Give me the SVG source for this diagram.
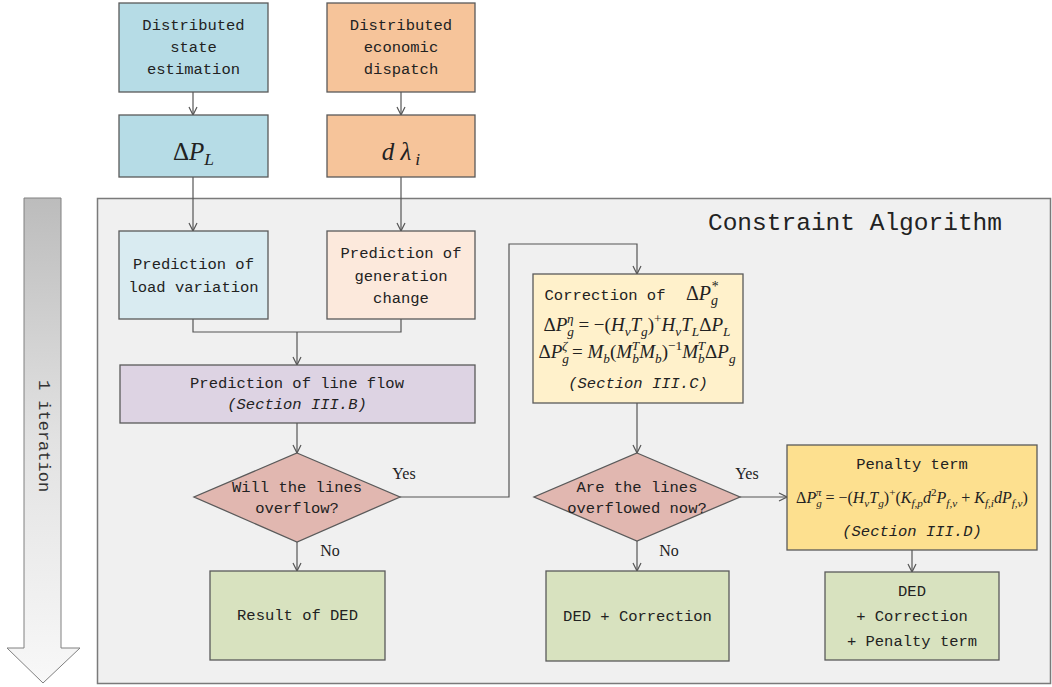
<svg xmlns="http://www.w3.org/2000/svg" width="1052" height="687" viewBox="0 0 1052 687">
<defs>
<linearGradient id="iterGrad" x1="0" y1="0" x2="0" y2="1">
<stop offset="0" stop-color="#bcbcbc"/>
<stop offset="0.5" stop-color="#e2e2e2"/>
<stop offset="1" stop-color="#f8f8f8"/>
</linearGradient>
<marker id="arr" viewBox="0 0 10 10" refX="9" refY="5" markerWidth="10" markerHeight="10" markerUnits="userSpaceOnUse" orient="auto">
<polyline points="1,1 9,5 1,9" fill="none" stroke="#555" stroke-width="1.2"/>
</marker>
</defs>
<style>
.box{stroke:#5a5a5a;stroke-width:1.3}
.t{font-family:"Liberation Mono","DejaVu Sans Mono",monospace;font-size:15.5px;fill:#222;text-anchor:middle}
.it{font-style:italic}
.lbl{font-family:"Liberation Serif",serif;font-size:16px;fill:#222;text-anchor:middle}
.eq{font-family:"Liberation Serif",serif;font-style:italic;fill:#222;text-anchor:middle}
.s{font-size:0.7em}
.up{font-style:normal}
.conn{fill:none;stroke:#555;stroke-width:1.2}
</style>
<rect width="1052" height="687" fill="#ffffff"/>
<rect x="97.5" y="198.5" width="953" height="485" fill="#f0f0f0" stroke="#7a7a7a" stroke-width="1.5"/>
<text x="855" y="230" font-family="Liberation Mono, DejaVu Sans Mono, monospace" font-size="24.5" fill="#222" text-anchor="middle">Constraint Algorithm</text>

<g id="iteration">
<polygon points="24,198 61,198 61,648 80,648 43,683 7,648 24,648" fill="url(#iterGrad)" stroke="#808080" stroke-width="1"/>
<text x="43" y="436" transform="rotate(90 43 436)" font-family="Liberation Mono, DejaVu Sans Mono, monospace" font-size="17" fill="#333" text-anchor="middle" dominant-baseline="central">1 iteration</text>
</g>

<g id="connectors">
<line class="conn" x1="193" y1="92" x2="193" y2="115" marker-end="url(#arr)"/>
<line class="conn" x1="401" y1="92" x2="401" y2="115" marker-end="url(#arr)"/>
<line class="conn" x1="193" y1="177" x2="193" y2="231" marker-end="url(#arr)"/>
<line class="conn" x1="401" y1="177" x2="401" y2="231" marker-end="url(#arr)"/>
<polyline class="conn" points="193,319 193,332 401,332 401,319"/>
<line class="conn" x1="297" y1="332" x2="297" y2="365" marker-end="url(#arr)"/>
<line class="conn" x1="297" y1="423" x2="297" y2="453" marker-end="url(#arr)"/>
<line class="conn" x1="297" y1="542" x2="297" y2="571" marker-end="url(#arr)"/>
<polyline class="conn" points="400,497 509,497 509,244 637,244 637,274" marker-end="url(#arr)"/>
<line class="conn" x1="637" y1="403" x2="637" y2="453" marker-end="url(#arr)"/>
<line class="conn" x1="637" y1="541" x2="637" y2="571" marker-end="url(#arr)"/>
<line class="conn" x1="740" y1="497" x2="787" y2="497" marker-end="url(#arr)"/>
<line class="conn" x1="912" y1="550" x2="912" y2="572" marker-end="url(#arr)"/>
<text class="lbl" x="404" y="479">Yes</text>
<text class="lbl" x="330" y="556">No</text>
<text class="lbl" x="747" y="479">Yes</text>
<text class="lbl" x="669" y="556">No</text>
</g>

<g id="dse">
<rect class="box" x="119" y="3" width="149" height="89" fill="#b6dce6"/>
<text class="t" x="193.5" y="30">Distributed</text>
<text class="t" x="193.5" y="52">state</text>
<text class="t" x="193.5" y="74">estimation</text>
</g>
<g id="ded">
<rect class="box" x="327" y="3" width="148" height="89" fill="#f6c49a"/>
<text class="t" x="401" y="30">Distributed</text>
<text class="t" x="401" y="52">economic</text>
<text class="t" x="401" y="74">dispatch</text>
</g>
<g id="dpl">
<rect class="box" x="119" y="115" width="149" height="62" fill="#b6dce6"/>
<text class="eq" x="193.5" y="160" font-size="25"><tspan class="up">Δ</tspan>P<tspan class="s" dy="5">L</tspan></text>
</g>
<g id="dlambda">
<rect class="box" x="327" y="115" width="148" height="62" fill="#f6c49a"/>
<text class="eq" x="401" y="160" font-size="25">d λ<tspan class="s" dx="4" dy="5">i</tspan></text>
</g>
<g id="load">
<rect class="box" x="119" y="231" width="149" height="88" fill="#d9ebf1"/>
<text class="t" x="193.5" y="269">Prediction of</text>
<text class="t" x="193.5" y="292">load variation</text>
</g>
<g id="gen">
<rect class="box" x="327" y="231" width="148" height="88" fill="#fce9dc"/>
<text class="t" x="401" y="258">Prediction of</text>
<text class="t" x="401" y="281">generation</text>
<text class="t" x="401" y="303">change</text>
</g>
<g id="lineflow">
<rect class="box" x="120" y="365" width="355" height="58" fill="#ddd3e3"/>
<text class="t" x="297" y="388">Prediction of line flow</text>
<text class="t it" x="297" y="409">(Section III.B)</text>
</g>
<g id="overflow">
<polygon class="box" points="297,453 400,497 297,542 194,497" fill="#e1b7b0"/>
<text class="t" x="297" y="492">Will the lines</text>
<text class="t" x="297" y="513">overflow?</text>
</g>
<g id="result">
<rect class="box" x="210" y="571" width="175" height="89" fill="#d8e2bf"/>
<text class="t" x="297.5" y="620" font-size="17">Result of DED</text>
</g>
<g id="correction">
<rect class="box" x="533" y="274" width="210" height="129" fill="#fff1cb"/>
<text class="t" x="605" y="300" font-size="16">Correction of</text>
<text class="eq" x="702" y="300" font-size="20"><tspan class="up">Δ</tspan>P<tspan class="s" dy="5">g</tspan><tspan class="s" dx="-7" dy="-14">*</tspan></text>
<text class="eq" x="637" y="331" font-size="19"><tspan class="up">Δ</tspan>P<tspan class="s" dy="5">g</tspan><tspan class="s" dx="-7" dy="-13">η</tspan><tspan class="up" dy="8"> = −(</tspan>H<tspan class="s" dy="5">v</tspan><tspan dy="-5">T</tspan><tspan class="s" dy="5">g</tspan><tspan class="up" dy="-5">)</tspan><tspan class="s up" dy="-8">+</tspan><tspan dy="8">H</tspan><tspan class="s" dy="5">v</tspan><tspan dy="-5">T</tspan><tspan class="s" dy="5">L</tspan><tspan class="up" dy="-5">Δ</tspan>P<tspan class="s" dy="5">L</tspan></text>
<text class="eq" x="637" y="358" font-size="19"><tspan class="up">Δ</tspan>P<tspan class="s" dy="5">g</tspan><tspan class="s" dx="-7" dy="-13">ζ</tspan><tspan class="up" dy="8"> = </tspan>M<tspan class="s" dy="5">b</tspan><tspan class="up" dy="-5">(</tspan>M<tspan class="s" dy="5">b</tspan><tspan class="s" dx="-7" dy="-13">T</tspan><tspan dy="8">M</tspan><tspan class="s" dy="5">b</tspan><tspan class="up" dy="-5">)</tspan><tspan class="s up" dy="-8">−1</tspan><tspan dy="8">M</tspan><tspan class="s" dy="5">b</tspan><tspan class="s" dx="-7" dy="-13">T</tspan><tspan class="up" dy="8">Δ</tspan>P<tspan class="s" dy="5">g</tspan></text>
<text class="t it" x="638" y="388">(Section III.C)</text>
</g>
<g id="overflowed">
<polygon class="box" points="637,453 740,497 637,541 534,497" fill="#e1b7b0"/>
<text class="t" x="637" y="492">Are the lines</text>
<text class="t" x="637" y="513">overflowed now?</text>
</g>
<g id="dedcorr">
<rect class="box" x="546" y="571" width="183" height="90" fill="#d8e2bf"/>
<text class="t" x="637.5" y="621" font-size="17">DED + Correction</text>
</g>
<g id="penalty">
<rect class="box" x="787" y="445" width="250" height="105" fill="#fde08f"/>
<text class="t" x="912" y="469">Penalty term</text>
<text class="eq" x="912" y="503" font-size="16"><tspan class="up">Δ</tspan>P<tspan class="s" dy="4">g</tspan><tspan class="s" dx="-6" dy="-11">π</tspan><tspan class="up" dy="7"> = −(</tspan>H<tspan class="s" dy="4">v</tspan><tspan dy="-4">T</tspan><tspan class="s" dy="4">g</tspan><tspan class="up" dy="-4">)</tspan><tspan class="s up" dy="-7">+</tspan><tspan class="up" dy="7">(</tspan>K<tspan class="s" dy="4">f,p</tspan><tspan dy="-4">d</tspan><tspan class="s up" dy="-7">2</tspan><tspan dy="7">P</tspan><tspan class="s" dy="4">f,v</tspan><tspan class="up" dy="-4"> + </tspan>K<tspan class="s" dy="4">f,i</tspan><tspan dy="-4">dP</tspan><tspan class="s" dy="4">f,v</tspan><tspan class="up" dy="-4">)</tspan></text>
<text class="t it" x="912" y="536">(Section III.D)</text>
</g>
<g id="final">
<rect class="box" x="825" y="572" width="174" height="88" fill="#d8e2bf"/>
<text class="t" x="912" y="596" font-size="17">DED</text>
<text class="t" x="912" y="621" font-size="17">+ Correction</text>
<text class="t" x="912" y="646" font-size="17">+ Penalty term</text>
</g>
</svg>
